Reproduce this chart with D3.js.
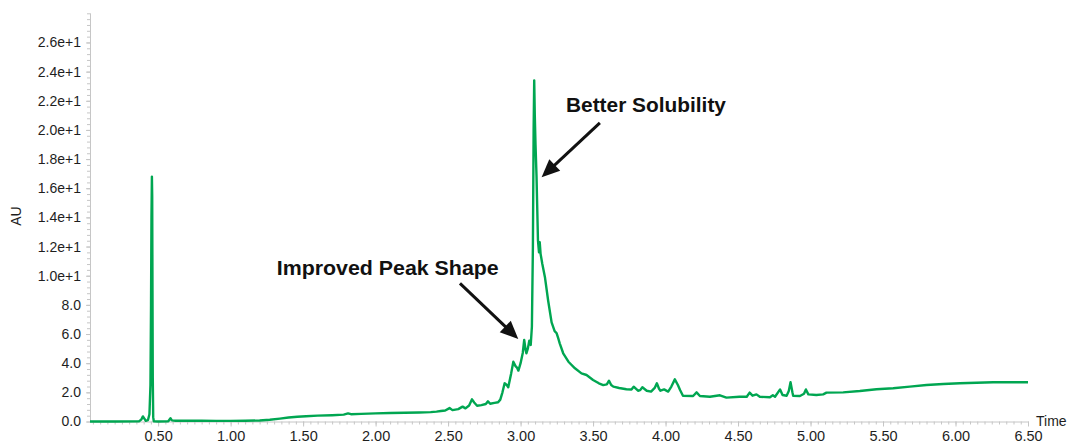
<!DOCTYPE html>
<html><head><meta charset="utf-8">
<script src="https://cdn.jsdelivr.net/npm/d3@7"></script>
<style>body{margin:0;background:#fff}svg{display:block}</style>
</head><body>
<svg id="chart" width="1074" height="445"></svg>
<script>
// ---- data ----
const times = [0.03,0.20,0.37,0.385,0.395,0.405,0.415,0.43,0.44,0.447,0.451,0.454,0.457,0.459,0.461,0.463,0.466,0.47,0.50,0.57,0.585,0.595,0.62,0.70,0.80,0.90,1.00,1.10,1.20,1.27,1.34,1.40,1.46,1.52,1.60,1.70,1.78,1.81,1.83,1.90,2.00,2.10,2.20,2.30,2.38,2.42,2.45,2.48,2.51,2.53,2.57,2.60,2.62,2.645,2.665,2.68,2.70,2.73,2.76,2.775,2.79,2.82,2.845,2.86,2.875,2.89,2.905,2.915,2.935,2.95,2.965,2.975,2.985,3.00,3.015,3.025,3.035,3.04,3.05,3.06,3.07,3.078,3.085,3.09,3.094,3.098,3.103,3.11,3.12,3.127,3.132,3.138,3.15,3.168,3.19,3.214,3.235,3.249,3.26,3.27,3.294,3.33,3.375,3.42,3.455,3.50,3.54,3.57,3.595,3.61,3.625,3.64,3.68,3.73,3.765,3.78,3.81,3.825,3.84,3.87,3.90,3.925,3.94,3.955,3.965,3.99,4.018,4.04,4.064,4.085,4.10,4.12,4.19,4.214,4.237,4.306,4.375,4.42,4.51,4.56,4.58,4.60,4.627,4.65,4.72,4.74,4.755,4.79,4.807,4.835,4.85,4.862,4.875,4.88,4.927,4.955,4.968,4.985,5.04,5.087,5.11,5.225,5.34,5.455,5.57,5.685,5.80,5.915,6.03,6.145,6.26,6.50];
const au = [0,0,0.02,0.15,0.35,0.2,0.05,0.1,0.5,2.5,8,14,16.8,15.5,9,3,0.3,0.02,0,0.02,0.22,0.08,0.05,0.06,0.05,0.04,0.04,0.05,0.07,0.12,0.2,0.27,0.33,0.36,0.40,0.43,0.47,0.56,0.5,0.52,0.56,0.58,0.6,0.62,0.64,0.68,0.72,0.75,0.92,0.78,0.85,1.02,0.9,1.1,1.52,1.3,1.08,1.12,1.2,1.38,1.22,1.28,1.32,1.5,2.0,2.62,2.5,2.35,3.3,4.1,3.8,3.7,3.49,4.0,4.7,5.59,4.9,4.68,5.0,5.54,5.25,6.5,12,20,23.4,21,19,16.8,12.4,11.6,12.3,11.5,10.8,9.9,8.3,6.8,6.2,6.05,5.7,5.36,4.68,4.1,3.65,3.3,3.19,2.85,2.62,2.5,2.55,2.8,2.5,2.39,2.3,2.21,2.2,2.39,2.11,2.15,2.35,2.11,2.05,2.3,2.62,2.25,2.11,2.2,2.05,2.4,2.89,2.5,2.16,1.77,1.75,2.0,1.75,1.7,1.8,1.64,1.7,1.7,1.98,1.77,1.86,1.7,1.66,1.8,1.7,2.2,1.82,1.77,2.1,2.69,2.0,1.77,1.75,1.9,2.2,1.86,1.82,1.86,1.98,2.0,2.09,2.21,2.28,2.39,2.5,2.57,2.62,2.66,2.69,2.69];
const xTickValues = [0.5,1.0,1.5,2.0,2.5,3.0,3.5,4.0,4.5,5.0,5.5,6.0,6.5];
const yTickValues = [0,2,4,6,8,10,12,14,16,18,20,22,24,26];
const annLabels = ["Improved Peak Shape","Better Solubility"];
const annTextPos = [[1.318,10.05],[3.313,21.23]];     // data coords (time, AU)
const annArrowFrom = [[2.582,9.48],[3.547,20.49]];
const annArrowTo = [[2.984,5.66],[3.145,16.75]];

// ---- layout ----
const svg = d3.select("#chart");
const x = d3.scaleLinear().domain([0.03,6.5]).range([90,1028]);
const y = d3.scaleLinear().domain([0,28]).range([421.5,13.3]);
const axisColor = "#c6c6c6";
const textColor = "#1e1e1e";
const font = "'Liberation Sans', Arial, Helvetica, sans-serif";

// y axis
const yFmt = v => v >= 10 ? d3.format(".1e")(v) : d3.format(".1f")(v);
const yAxis = d3.axisLeft(y).tickValues(yTickValues).tickFormat(yFmt).tickSize(4).tickPadding(5);
const gy = svg.append("g").attr("transform","translate(90,0)").call(yAxis);
const yMinor = d3.axisLeft(y).tickValues(d3.range(0,28.01,0.4)).tickFormat("").tickSize(3);
svg.append("g").attr("transform","translate(90,0)").call(yMinor)
  .call(g=>g.select(".domain").remove())
  .selectAll("line").attr("stroke",axisColor);
gy.select(".domain").attr("stroke",axisColor).attr("d","M0.5,"+y(28)+"V"+y(0));
gy.selectAll("line").attr("stroke",axisColor);
gy.selectAll("text").attr("fill",textColor).style("font-family",font).style("font-size","14px");

// x axis
const xAxis = d3.axisBottom(x).tickValues(xTickValues).tickFormat(d3.format(".2f")).tickSize(5).tickPadding(4);
const gx = svg.append("g").attr("transform","translate(0,421.5)").call(xAxis);
const xMinor = d3.axisBottom(x).tickValues(d3.range(0.05,6.501,0.05)).tickFormat("").tickSize(3);
svg.append("g").attr("transform","translate(0,421.5)").call(xMinor)
  .call(g=>g.select(".domain").remove())
  .selectAll("line").attr("stroke",axisColor);
gx.select(".domain").attr("stroke",axisColor).attr("d","M"+x(0.03)+",0.5H"+x(6.5));
gx.selectAll("line").attr("stroke",axisColor);
gx.selectAll("text").attr("fill",textColor).style("font-family",font).style("font-size","14.5px");

// axis titles
svg.append("text").attr("x",x(6.5)+8).attr("y",426).text("Time")
  .attr("fill",textColor).style("font-family",font).style("font-size","14px");
svg.append("text").attr("transform","translate(21,216) rotate(-90)").attr("text-anchor","middle").text("AU")
  .attr("fill",textColor).style("font-family",font).style("font-size","14px");

// trace
const pts = times.map((t,i)=>[t,au[i]]);
const line = d3.line().x(d=>x(d[0])).y(d=>y(d[1]));
svg.append("path").datum(pts).attr("d",line).attr("fill","none")
  .attr("stroke","#00a651").attr("stroke-width",2.4).attr("stroke-linejoin","round");

// annotations
const annLen = [222,160];
annLabels.forEach((lab,i)=>{
  svg.append("text").attr("x",x(annTextPos[i][0])).attr("y",y(annTextPos[i][1])).text(lab)
    .attr("fill","#111").style("font-family",font).style("font-weight","bold").style("font-size","21px")
    .attr("textLength",annLen[i]).attr("lengthAdjust","spacingAndGlyphs");
  const x0=x(annArrowFrom[i][0]), y0=y(annArrowFrom[i][1]), x1=x(annArrowTo[i][0]), y1=y(annArrowTo[i][1]);
  const dx=x1-x0, dy=y1-y0, L=Math.hypot(dx,dy), ux=dx/L, uy=dy/L;
  const hl=18, hw=8;
  const bx=x1-ux*hl, by=y1-uy*hl;
  svg.append("line").attr("x1",x0).attr("y1",y0).attr("x2",bx+ux*2).attr("y2",by+uy*2)
    .attr("stroke","#111").attr("stroke-width",3);
  svg.append("path").attr("d",`M${x1},${y1}L${bx-uy*hw},${by+ux*hw}L${bx+uy*hw},${by-ux*hw}Z`).attr("fill","#111");
});
</script>
</body></html>
